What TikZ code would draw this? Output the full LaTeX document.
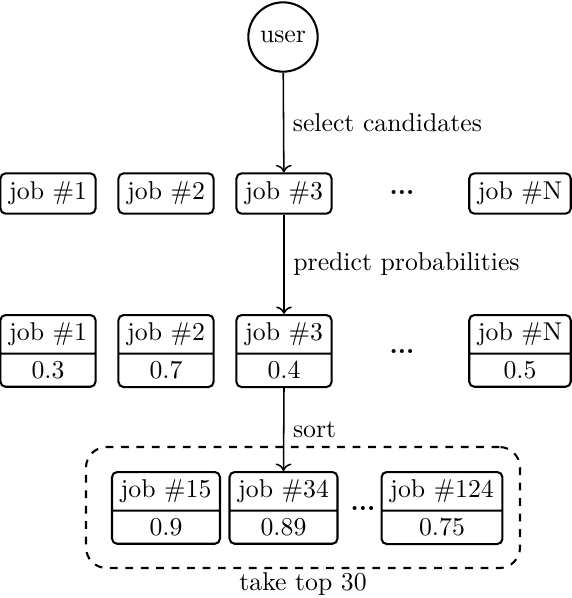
\documentclass[tikz,border=0pt]{standalone}
\usetikzlibrary{shapes.multipart,arrows.meta}
\begin{document}
\begin{tikzpicture}[x=0.3885pt,y=-0.3885pt,
  jobbox/.style={draw,thick,rounded corners=2pt},
  scorebox/.style={draw,thick,rounded corners=2pt,rectangle split,rectangle split parts=2,anchor=north,inner ysep=2.6pt},
  conn/.style={->,semithick},
  dotsn/.style={font=\bfseries}]
\useasboundingbox (0,0) rectangle (572,598);
\node[draw,thick,circle,inner sep=3.33pt] (user) at (283,37) {user};
% row 1
\node[jobbox] (a1) at (48,193.5) {job \#1};
\node[jobbox] (a2) at (166,193.5) {job \#2};
\node[jobbox] (a3) at (284,193.5) {job \#3};
\node[dotsn] (ad) at (402,192) {...};
\node[jobbox] (aN) at (520,193.5) {job \#N};
% row 2
\node[scorebox] (b1) at (48,314) {job \#1\nodepart{two}0.3};
\node[scorebox] (b2) at (166,314) {job \#2\nodepart{two}0.7};
\node[scorebox] (b3) at (284,314) {job \#3\nodepart{two}0.4};
\node[dotsn] (bd) at (402,351) {...};
\node[scorebox] (bN) at (520,314) {job \#N\nodepart{two}0.5};
% row 3
\node[draw,thick,dashed,rounded corners=8pt,minimum width=434*0.3885pt,minimum height=121*0.3885pt] (top) at (303,507.5) {};
\node[scorebox] (c1) at (166,471) {job \#15\nodepart{two}0.9};
\node[scorebox] (c2) at (283.5,471) {job \#34\nodepart{two}0.89};
\node[dotsn] (cd) at (363,508) {...};
\node[scorebox] (c3) at (442,471) {job \#124\nodepart{two}0.75};
\node (toplabel) at (303,584) {take top 30};
% connectors
\draw[conn] (user) -- node[midway,right] {select candidates} (a3);
\draw[conn] (a3) -- node[midway,right] {predict probabilities} (b3);
\draw[conn] (b3.south) -- node[midway,right] {sort} (c2.north);
\end{tikzpicture}
\end{document}
